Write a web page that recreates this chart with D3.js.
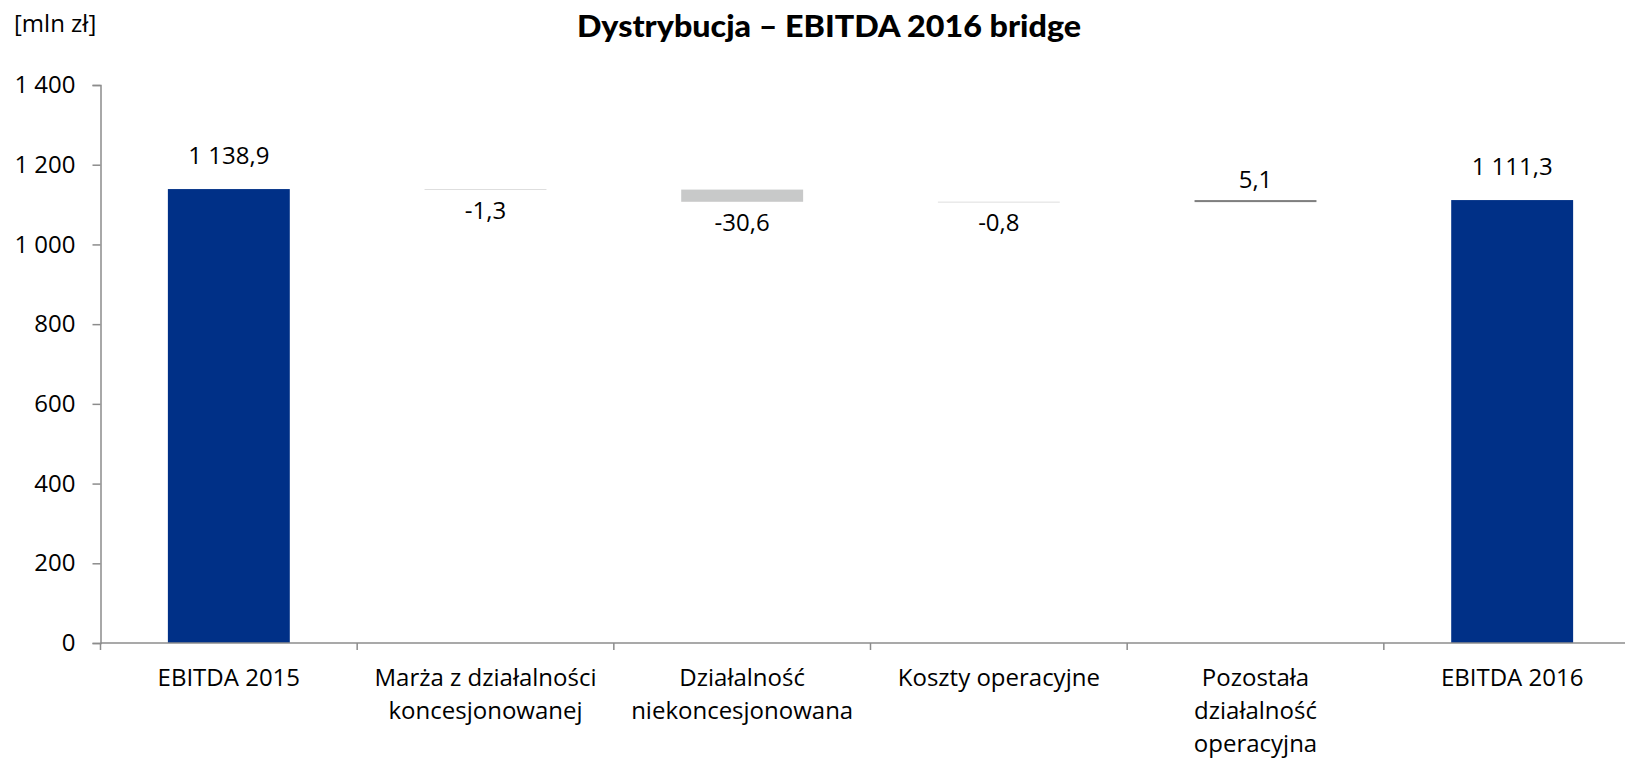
<!DOCTYPE html>
<html>
<head>
<meta charset="utf-8">
<script src="https://cdn.jsdelivr.net/npm/d3@7"></script>
<style>
  html, body { margin: 0; padding: 0; background: #fff; }
  svg { display: block; }
  text { font-family: "Open Sans", Lato, sans-serif; fill: #000; }
</style>
</head>
<body>
<svg id="chart" width="1625" height="758"></svg>
<script>
// ---- data ----
const categories = [
  ["EBITDA 2015"],
  ["Marża z działalności", "koncesjonowanej"],
  ["Działalność", "niekoncesjonowana"],
  ["Koszty operacyjne"],
  ["Pozostała", "działalność", "operacyjna"],
  ["EBITDA 2016"]
];
const values = [1138.9, -1.3, -30.6, -0.8, 5.1, 1111.3];
const kinds = ["total", "delta", "delta", "delta", "delta", "total"];
const yTicks = [0, 200, 400, 600, 800, 1000, 1200, 1400];
const titleText = "Dystrybucja – EBITDA 2016 bridge";
const unitText = "[mln zł]";

(function () {
// ---- layout ----
const pLeft = 100.5, pRight = 1640.5, pTop = 85, pBottom = 643;
const colTotal = "#003087", colNeg = "#c8c9c9", colPos = "#7f7f7f", axisCol = "#8c8c8c";
const FS = 24;

const pl = d3.formatLocale({decimal: ",", thousands: " ", grouping: [3], currency: ["", " zł"], minus: "-"});
const fmtTick = pl.format(",d");
const fmtVal = pl.format(",.1f");

const svg = d3.select("#chart");
const idx = categories.map((d, i) => i);
const x = d3.scaleBand().domain(idx).range([pLeft, pRight]).padding(0);
const y = d3.scaleLinear().domain([0, 1400]).range([pBottom, pTop]);
const barW = x.bandwidth() * 0.475;

// compute waterfall segments
let running = 0;
const segs = values.map((v, i) => {
  let y0, y1;
  if (kinds[i] === "total") { y0 = 0; y1 = v; running = v; }
  else { y0 = running; y1 = running + v; running = y1; }
  return {i, v, kind: kinds[i], lo: Math.min(y0, y1), hi: Math.max(y0, y1)};
});

// title + unit
svg.append("text").attr("x", 829).attr("y", 37).attr("text-anchor", "middle")
  .style("font-family", "Lato, sans-serif")
  .style("font-size", "31px").style("font-weight", "900")
  .attr("textLength", 504).attr("lengthAdjust", "spacingAndGlyphs")
  .text(titleText);
svg.append("text").attr("x", 14).attr("y", 32).attr("font-size", FS).text(unitText);

// y axis
const yAxis = d3.axisLeft(y).tickValues(yTicks).tickFormat(fmtTick).tickSize(8).tickPadding(17);
const gy = svg.append("g").attr("transform", `translate(${pLeft},0)`).call(yAxis);
gy.select(".domain").attr("stroke", axisCol).attr("stroke-width", 1.5);
gy.selectAll(".tick line").attr("stroke", axisCol).attr("stroke-width", 1.5);
gy.selectAll(".tick text").attr("font-size", FS).attr("font-family", "'Open Sans', sans-serif")
  .attr("fill", "#000");

// bars
svg.append("g").selectAll("rect").data(segs).join("rect")
  .attr("x", d => x(d.i) + (x.bandwidth() - barW) / 2)
  .attr("width", barW)
  .attr("y", d => y(d.hi))
  .attr("height", d => Math.max(y(d.lo) - y(d.hi), 0.6))
  .attr("fill", d => d.kind === "total" ? colTotal : (d.v < 0 ? colNeg : colPos));

// x axis line + ticks at category boundaries
svg.append("line").attr("x1", pLeft).attr("x2", pRight).attr("y1", y(0)).attr("y2", y(0))
  .attr("stroke", axisCol).attr("stroke-width", 1.5);
const bounds = idx.map(i => x(i)).concat([x(idx[idx.length - 1]) + x.bandwidth()]);
svg.append("g").selectAll("line").data(bounds).join("line")
  .attr("x1", d => d).attr("x2", d => d).attr("y1", y(0)).attr("y2", y(0) + 7)
  .attr("stroke", axisCol).attr("stroke-width", 1.5);

// category labels
const cl = svg.append("g").selectAll("text").data(categories).join("text")
  .attr("text-anchor", "middle").attr("font-size", FS);
cl.each(function(lines, i) {
  const t = d3.select(this);
  lines.forEach((ln, k) => {
    t.append("tspan").attr("x", x(i) + x.bandwidth() / 2).attr("y", 686 + k * 33).text(ln);
  });
});

// value labels
svg.append("g").selectAll("text").data(segs).join("text")
  .attr("text-anchor", "middle").attr("font-size", FS)
  .attr("x", d => x(d.i) + x.bandwidth() / 2)
  .attr("y", d => d.kind === "total" ? y(d.hi) - 25 : (d.v < 0 ? y(d.lo) + 29 : y(d.hi) - 12))
  .text(d => fmtVal(d.v));
})();
</script>
</body>
</html>
